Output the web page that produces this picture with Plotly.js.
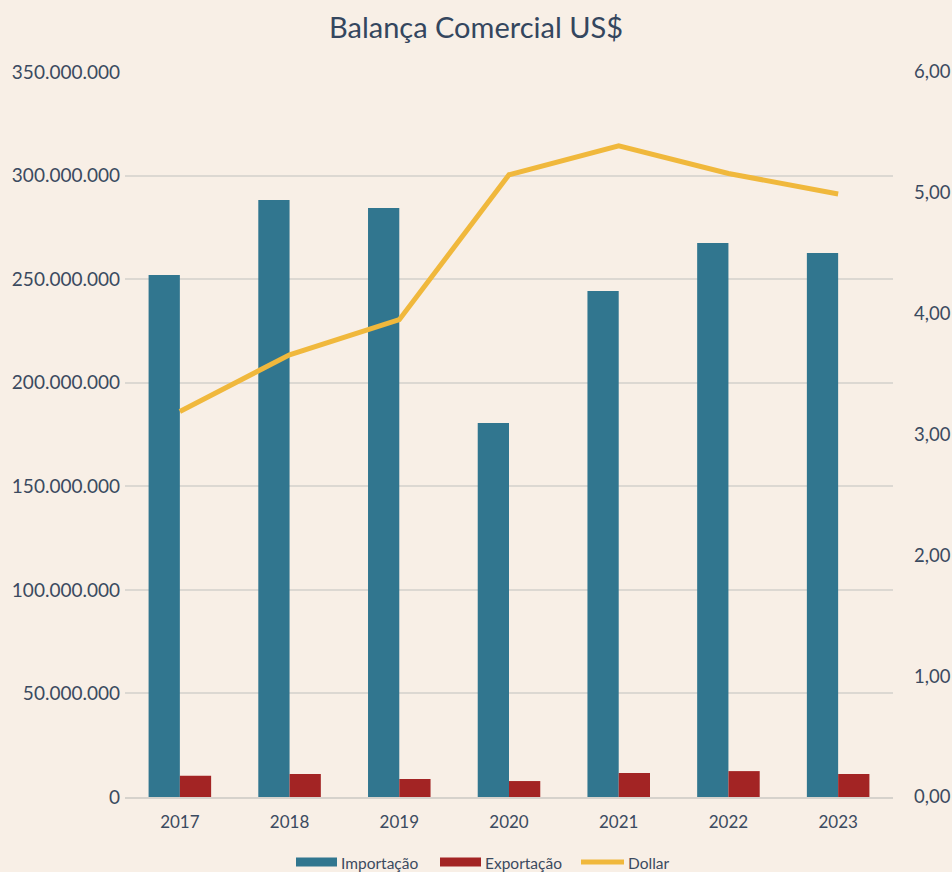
<!DOCTYPE html>
<html>
<head>
<meta charset="utf-8">
<script src="https://cdn.plot.ly/plotly-3.0.1.min.js"></script>
<style>html,body{margin:0;padding:0;background:#F8EFE6;}#chart{width:952px;height:872px;}</style>
</head>
<body>
<div id="chart"></div>
<script>
const years = ["2017","2018","2019","2020","2021","2022","2023"];
const importacao = [252000000, 288200000, 284300000, 180500000, 244300000, 267400000, 262600000];
const exportacao = [10200000, 11100000, 8700000, 7700000, 11600000, 12500000, 11100000];
const dollar = [3.19, 3.66, 3.95, 5.15, 5.39, 5.16, 4.99];
const seriesNames = ["Importação", "Exportação", "Dollar"];
const seriesColors = ["#31768F", "#A32424", "#F0B83C"];

const textColor = "#3B4A60";
const fontFam = "Lato, 'Open Sans', sans-serif";

const traces = [
  {type:"bar", name:seriesNames[0], x:years, y:importacao, marker:{color:seriesColors[0]}, yaxis:"y"},
  {type:"bar", name:seriesNames[1], x:years, y:exportacao, marker:{color:seriesColors[1]}, yaxis:"y"},
  {type:"scatter", mode:"lines", name:seriesNames[2], x:years, y:dollar, yaxis:"y2",
   line:{color:seriesColors[2], width:5}}
];

// manual legend (wide swatches like the original)
const L = 125, W = 768, B = 797, H = 725;
const px = v => (v - L) / W;
const py = v => (B - v) / H;
const legY = 862;
const legItems = [
  {x0:296, x1:337, tx:339},
  {x0:440, x1:481, tx:483},
  {x0:581, x1:624, tx:626}
];
const shapes = [];
const annotations = [];
legItems.forEach((it, i) => {
  if (i < 2) {
    shapes.push({type:"rect", xref:"paper", yref:"paper", x0:px(it.x0), x1:px(it.x1),
      y0:py(legY+4.5), y1:py(legY-4.5), fillcolor:seriesColors[i], line:{width:0}});
  } else {
    shapes.push({type:"line", xref:"paper", yref:"paper", x0:px(it.x0), x1:px(it.x1),
      y0:py(legY), y1:py(legY), line:{color:seriesColors[i], width:5}});
  }
  annotations.push({xref:"paper", yref:"paper", x:px(it.tx), y:py(legY+1), xanchor:"left", yanchor:"middle",
    text:seriesNames[i], showarrow:false, font:{size:15.5, color:textColor}});
});

const layout = {
  width:952, height:872,
  paper_bgcolor:"#F8EFE6", plot_bgcolor:"#F8EFE6",
  separators:",.",
  font:{family:fontFam, color:textColor, size:17},
  title:{text:"Balança Comercial US$", x:0.5, xanchor:"center", y:0.968, yanchor:"middle",
         font:{family:fontFam, size:29, color:"#34465E"}},
  margin:{l:125, r:59, t:72, b:75, autoexpand:false},
  barmode:"group", bargap:0.43, bargroupgap:0,
  showlegend:false,
  shapes:shapes,
  annotations:annotations,
  xaxis:{type:"category", showgrid:false, zeroline:false, showline:true, linecolor:"#D6D2CC", linewidth:2,
         ticks:"", tickfont:{size:17}, ticklabelstandoff:9},
  yaxis:{range:[0,350000000], dtick:50000000, tickformat:",d", showgrid:true, gridcolor:"#DCD8D2", gridwidth:1.5,
         zeroline:false, ticks:"", tickfont:{size:19}, ticklabelstandoff:4},
  yaxis2:{range:[0,6], dtick:1, tickformat:".2f", overlaying:"y", side:"right", showgrid:false, zeroline:false,
          ticks:"", tickfont:{size:18.5}, ticklabelstandoff:20}
};

Plotly.newPlot("chart", traces, layout, {displayModeBar:false});
</script>
</body>
</html>
